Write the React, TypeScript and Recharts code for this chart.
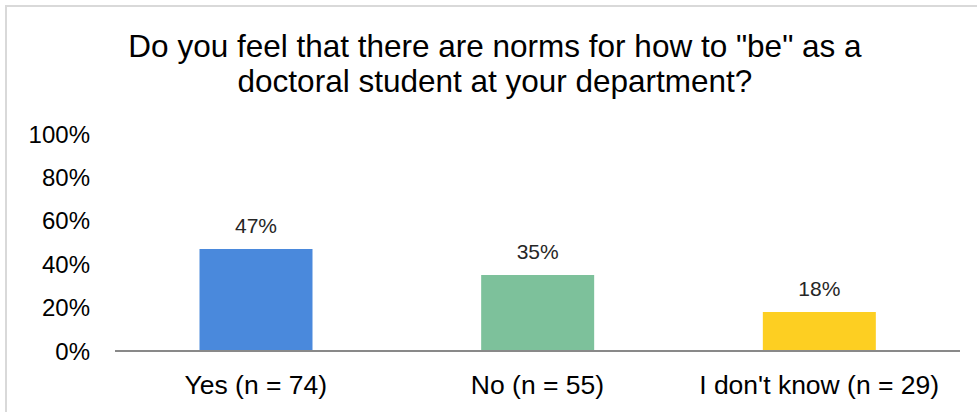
import { BarChart, Bar, XAxis, YAxis, LabelList, Cell } from 'recharts';

const categories = ['Yes (n = 74)', 'No (n = 55)', "I don't know (n = 29)"];
const shares = [0.47, 0.35, 0.18];
const barColors = ['#4a89dc', '#7dc19b', '#fdcf22'];
const yTicks = [0, 0.2, 0.4, 0.6, 0.8, 1];
const titleLines = ['Do you feel that there are norms for how to "be" as a', 'doctoral student at your department?'];

const data = categories.map((name, i) => ({ name, value: shares[i] }));

const pct = (v: number) => `${Math.round(v * 100)}%`;
const font = '"Liberation Sans", Arial, sans-serif';

export default function App() {
  return (
    <div
      style={{
        position: 'fixed',
        left: 0,
        top: 0,
        width: 977,
        height: 412,
        overflow: 'hidden',
        background: '#fff',
        fontFamily: font,
      }}
    >
      <div
        style={{
          position: 'absolute',
          left: 5,
          top: 5,
          width: 1000,
          height: 440,
          border: '2px solid #d9d9d9',
          boxSizing: 'border-box',
        }}
      />
      <div style={{ position: 'absolute', left: 0, top: 0 }}>
        <BarChart
          width={977}
          height={412}
          data={data}
          margin={{ top: 134, right: 17, bottom: 0, left: 0 }}
          barCategoryGap="30%"
        >
          <XAxis
            dataKey="name"
            height={61}
            axisLine={{ stroke: '#898989', strokeWidth: 2 }}
            tickLine={false}
            tickMargin={18}
            tick={{ fontSize: 26.5, fill: '#000', fontFamily: font }}
            interval={0}
          />
          <YAxis
            width={115}
            domain={[0, 1]}
            ticks={yTicks}
            tickFormatter={pct}
            axisLine={false}
            tickLine={false}
            tickMargin={19}
            tick={{ fontSize: 24, fill: '#000', fontFamily: font }}
          />
          <Bar dataKey="value" isAnimationActive={false}>
            {data.map((d, i) => (
              <Cell key={d.name} fill={barColors[i]} />
            ))}
            <LabelList
              dataKey="value"
              position="top"
              offset={16}
              formatter={(v: number) => pct(v)}
              style={{ fontSize: 21, fill: '#262626', fontFamily: font }}
            />
          </Bar>
        </BarChart>
      </div>
      <svg width={977} height={412} style={{ position: 'absolute', left: 0, top: 0, pointerEvents: 'none' }}>
        {titleLines.map((line, i) => (
          <text
            key={i}
            x={495}
            y={57 + i * 35}
            textAnchor="middle"
            fontSize={31.5}
            fontFamily={font}
            fill="#000"
          >
            {line}
          </text>
        ))}
      </svg>
    </div>
  );
}
